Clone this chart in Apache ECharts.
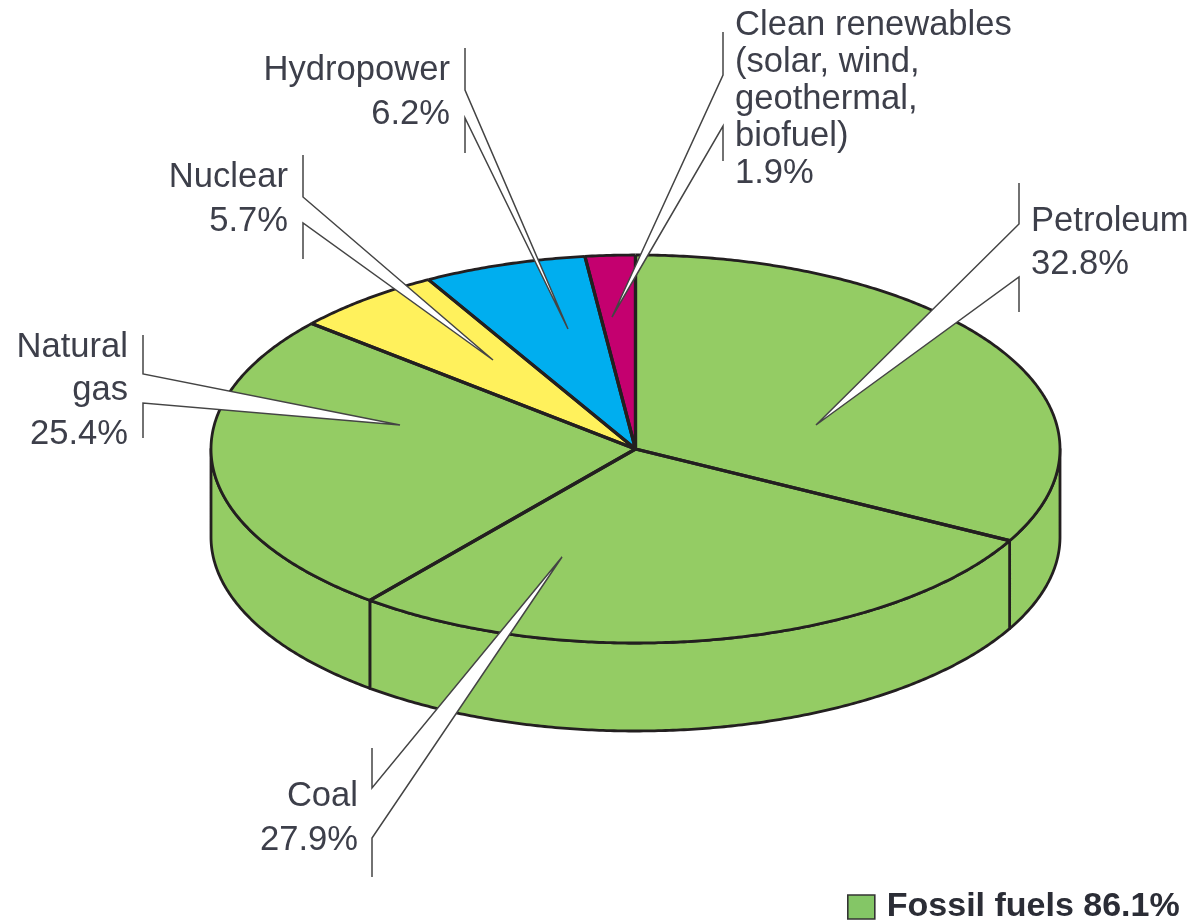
<!DOCTYPE html>
<html>
<head>
<meta charset="utf-8">
<script src="https://cdn.jsdelivr.net/npm/echarts@6/dist/echarts.min.js"></script>
<style>html,body{margin:0;padding:0;background:#fff}#c{width:1192px;height:922px}</style>
</head>
<body>
<div id="c"></div>
<script>
// Data, clockwise from twelve o'clock
var categories = ['Petroleum', 'Coal', 'Natural gas', 'Nuclear', 'Hydropower', 'Clean renewables'];
var values = [32.8, 27.9, 25.4, 5.7, 6.2, 1.9];
var labelLines = [
  ['Petroleum'],
  ['Coal'],
  ['Natural', 'gas'],
  ['Nuclear'],
  ['Hydropower'],
  ['Clean renewables', '(solar, wind,', 'geothermal,', 'biofuel)']
];
var legendLabel = 'Fossil fuels 86.1%';

// Styling and layout
var colors = ['#94cc64', '#94cc64', '#94cc64', '#fff15c', '#00aeef', '#c4006f'];
var ink = '#231f20', leader = '#444444', textColor = '#3d3f4a';
var pie = { cx: 635.5, cy: 449, rx: 424.5, ry: 194, depth: 88 };
var font = '"Liberation Sans", Arial, sans-serif';
var callouts = [
  { x: 1019, y0: 183, y1: 224, y2: 277, y3: 312, tip: [816, 425], textX: 1031, align: 'left', textY: 221, lh: 43.5 },
  { x: 372, y0: 748, y1: 788, y2: 838, y3: 877, tip: [562, 557], textX: 358, align: 'right', textY: 796, lh: 44 },
  { x: 143, y0: 335, y1: 374, y2: 403, y3: 438, tip: [400, 425], textX: 128, align: 'right', textY: 347, lh: 43.5 },
  { x: 303, y0: 155, y1: 197, y2: 223, y3: 259, tip: [493, 360], textX: 288, align: 'right', textY: 177, lh: 44 },
  { x: 465, y0: 48, y1: 90, y2: 118, y3: 153, tip: [568, 329], textX: 450, align: 'right', textY: 70, lh: 44 },
  { x: 723, y0: 32, y1: 75, y2: 126, y3: 161, tip: [612, 317], textX: 735, align: 'left', textY: 25, lh: 37 }
];

var total = values.reduce(function (a, b) { return a + b; }, 0);
function rimPoint(deg, drop) {
  var t = deg * Math.PI / 180;
  return [pie.cx + pie.rx * Math.sin(t), pie.cy - pie.ry * Math.cos(t) + (drop || 0)];
}
function arcPoints(a, b, drop) {
  var pts = [], n = Math.max(2, Math.ceil(Math.abs(b - a) * 2));
  for (var i = 0; i <= n; i++) pts.push(rimPoint(a + (b - a) * i / n, drop));
  return pts;
}
function spanOf(index) {
  var before = 0;
  for (var i = 0; i < index; i++) before += values[i];
  return [before / total * 360, (before + values[index]) / total * 360];
}

function renderSlice(params, api) {
  var i = params.dataIndex, span = spanOf(i), a = span[0], b = span[1];
  var children = [];
  var wa = Math.max(a, 90), wb = Math.min(b, 270);
  if (wb > wa) {
    var upper = arcPoints(wa, wb, 0), lower = arcPoints(wa, wb, pie.depth).reverse();
    children.push({
      type: 'polygon', z2: 1,
      shape: { points: upper.concat(lower) },
      style: { fill: colors[i], stroke: ink, lineWidth: 2.8, lineJoin: 'round' }
    });
  }
  var rim = arcPoints(a, b, 0);
  children.push({
    type: 'polygon', z2: 2,
    shape: { points: [[pie.cx, pie.cy]].concat(rim) },
    style: { fill: colors[i] }
  });
  children.push({
    type: 'polyline', z2: 3,
    shape: { points: rim },
    style: { fill: null, stroke: ink, lineWidth: 2.8 }
  });
  children.push({
    type: 'polyline', z2: 4,
    shape: { points: [rim[0], [pie.cx, pie.cy], rim[rim.length - 1]] },
    style: { fill: null, stroke: ink, lineWidth: 3.2, lineJoin: 'round' }
  });
  return { type: 'group', children: children };
}

function renderCallout(params, api) {
  var i = params.dataIndex, c = callouts[i];
  var lines = labelLines[i].concat([values[i].toFixed(1) + '%']);
  var children = [
    {
      type: 'polygon',
      shape: { points: [[c.x, c.y1], c.tip, [c.x, c.y2]] },
      style: { fill: '#fff' }
    },
    {
      type: 'polyline',
      shape: { points: [[c.x, c.y0], [c.x, c.y1], c.tip, [c.x, c.y2], [c.x, c.y3]] },
      style: { fill: null, stroke: leader, lineWidth: 1.5, lineJoin: 'miter' }
    }
  ];
  lines.forEach(function (line, k) {
    children.push({
      type: 'text',
      style: {
        x: c.textX, y: c.textY + k * c.lh, text: line,
        textAlign: c.align, textVerticalAlign: 'middle',
        font: '34.6px ' + font, fill: textColor
      }
    });
  });
  return { type: 'group', children: children };
}

var chart = echarts.init(document.getElementById('c'), null, { renderer: 'canvas' });
chart.setOption({
  animation: false,
  backgroundColor: '#fff',
  legend: {
    data: [{ name: legendLabel, icon: 'rect' }],
    left: 847, top: 890,
    padding: 0,
    itemWidth: 27, itemHeight: 24,
    itemStyle: { color: '#84c666', borderColor: '#333', borderWidth: 1.6 },
    selectedMode: false,
    textStyle: { fontFamily: font, fontWeight: 'bold', fontSize: 34, color: '#2b2d36', padding: [2, 0, 0, 7] }
  },
  series: [
    {
      type: 'custom', name: legendLabel, coordinateSystem: 'none', silent: true, z: 2,
      itemStyle: { color: colors[0] },
      data: categories.map(function (n, i) { return { name: n, value: values[i] }; }),
      renderItem: renderSlice
    },
    {
      type: 'custom', name: 'callouts', coordinateSystem: 'none', silent: true, z: 3,
      data: categories.map(function (n, i) { return { name: n, value: values[i] }; }),
      renderItem: renderCallout
    }
  ]
});
</script>
</body>
</html>
